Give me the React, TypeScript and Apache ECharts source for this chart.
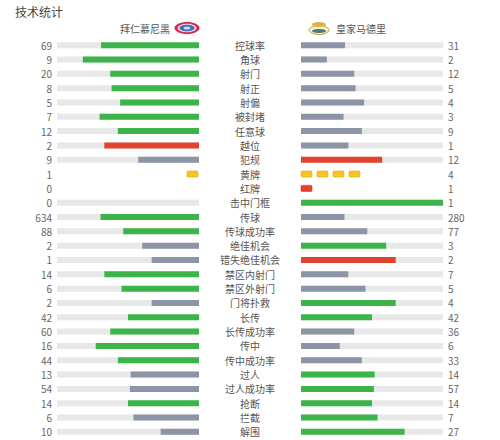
import React, { useEffect, useRef } from "react";
import * as echarts from "echarts";

const categories = [
  "控球率", "角球", "射门", "射正", "射偏", "被封堵", "任意球", "越位", "犯规", "黄牌",
  "红牌", "击中门框", "传球", "传球成功率", "绝佳机会", "错失绝佳机会", "禁区内射门", "禁区外射门", "门将扑救", "长传",
  "长传成功率", "传中", "传中成功率", "过人", "过人成功率", "抢断", "拦截", "解围",
];
const homeValues = [69, 9, 20, 8, 5, 7, 12, 2, 9, 1, 0, 0, 634, 88, 2, 1, 14, 6, 2, 42, 60, 16, 44, 13, 54, 14, 6, 10];
const awayValues = [31, 2, 12, 5, 4, 3, 9, 1, 12, 4, 1, 1, 280, 77, 3, 2, 7, 5, 4, 42, 36, 6, 33, 14, 57, 14, 7, 27];
const badStats = ["越位", "犯规", "错失绝佳机会"];
const yellowCardStat = "黄牌";
const redCardStat = "红牌";
const homeTeam = "拜仁慕尼黑";
const awayTeam = "皇家马德里";
const title = "技术统计";

const GREEN = "#3bb54a";
const RED = "#e2432f";
const GREY = "#8c95a6";
const TRACK = "#e8e8e8";
const YELLOW = "#f7c51e";
const FONT = "'Noto Sans CJK SC', 'Noto Sans', sans-serif";

const isCard = (c: string) => c === yellowCardStat || c === redCardStat;

function fillColor(i: number, side: "home" | "away") {
  const h = homeValues[i];
  const a = awayValues[i];
  const mine = side === "home" ? h : a;
  const other = side === "home" ? a : h;
  const win = badStats.includes(categories[i]) ? RED : GREEN;
  return mine >= other ? win : GREY;
}

function buildFill(side: "home" | "away") {
  return categories.map((c, i) => {
    if (isCard(c)) return "-";
    const h = homeValues[i];
    const a = awayValues[i];
    const t = h + a;
    const v = t === 0 ? 0 : (side === "home" ? h : a) / t;
    return { value: v, itemStyle: { color: fillColor(i, side) } };
  });
}
function buildTrack() {
  return categories.map((c) => (isCard(c) ? "-" : 1));
}
function cardData(side: "home" | "away", stat: string) {
  const i = categories.indexOf(stat);
  const n = side === "home" ? homeValues[i] : awayValues[i];
  return [[0, i, n]];
}

function cardSeries(side: "home" | "away", stat: string, color: string, border: string, gi: number) {
  return {
    type: "custom",
    xAxisIndex: gi,
    yAxisIndex: gi === 0 ? 0 : 2,
    data: cardData(side, stat),
    encode: { x: 0, y: 1 },
    renderItem: (params: any, api: any) => {
      const row = api.value(1);
      const n = api.value(2);
      const p = api.coord([0, row]);
      const children: any[] = [];
      for (let k = 0; k < n; k++) {
        const x = side === "home" ? p[0] - 12 - k * 16 : p[0] + k * 16;
        children.push({
          type: "rect",
          shape: { x, y: p[1] - 3, width: 11, height: 6, r: 1 },
          style: { fill: color, stroke: border, lineWidth: 0.6 },
        });
      }
      return { type: "group", children };
    },
    silent: true,
    z: 5,
  };
}

export default function App() {
  const ref = useRef<HTMLDivElement>(null);
  useEffect(() => {
    if (!ref.current) return;
    const chart = echarts.init(ref.current, null, { renderer: "svg" });
    const gridTop = 38;
    const gridH = 401;
    const option: any = {
      animation: false,
      backgroundColor: "#ffffff",
      textStyle: { fontFamily: FONT },
      grid: [
        { left: 57, width: 142, top: gridTop, height: gridH },
        { left: 301, width: 142, top: gridTop, height: gridH },
      ],
      xAxis: [
        { gridIndex: 0, type: "value", min: 0, max: 1, inverse: true, show: false },
        { gridIndex: 1, type: "value", min: 0, max: 1, show: false },
      ],
      yAxis: [
        {
          gridIndex: 0, type: "category", data: categories, inverse: true, position: "left",
          axisLine: { show: false }, axisTick: { show: false },
          axisLabel: {
            margin: 5, fontSize: 10, color: "#666", fontFamily: FONT,
            formatter: (_v: string, idx: number) => String(homeValues[idx]),
          },
        },
        {
          gridIndex: 0, type: "category", data: categories, inverse: true, position: "right",
          axisLine: { show: false }, axisTick: { show: false },
          axisLabel: { margin: 51, align: "center", fontSize: 10, color: "#555", fontFamily: FONT },
        },
        {
          gridIndex: 1, type: "category", data: categories, inverse: true, position: "right",
          axisLine: { show: false }, axisTick: { show: false },
          axisLabel: {
            margin: 5, fontSize: 10, color: "#666", fontFamily: FONT,
            formatter: (_v: string, idx: number) => String(awayValues[idx]),
          },
        },
      ],
      series: [
        { type: "bar", xAxisIndex: 0, yAxisIndex: 0, data: buildTrack(), barWidth: 6, itemStyle: { color: TRACK }, silent: true, z: 1 },
        { type: "bar", xAxisIndex: 0, yAxisIndex: 0, data: buildFill("home"), barWidth: 6, barGap: "-100%", silent: true, z: 2 },
        { type: "bar", xAxisIndex: 1, yAxisIndex: 2, data: buildTrack(), barWidth: 6, itemStyle: { color: TRACK }, silent: true, z: 1 },
        { type: "bar", xAxisIndex: 1, yAxisIndex: 2, data: buildFill("away"), barWidth: 6, barGap: "-100%", silent: true, z: 2 },
        cardSeries("home", yellowCardStat, YELLOW, "#e2a90e", 0),
        cardSeries("home", redCardStat, RED, "#c9301e", 0),
        cardSeries("away", yellowCardStat, YELLOW, "#e2a90e", 1),
        cardSeries("away", redCardStat, RED, "#c9301e", 1),
      ],
      graphic: [
        { type: "text", left: 15, top: 5, style: { text: title, fontSize: 12, fill: "#444", fontFamily: FONT } },
        { type: "text", x: 170, y: 28, style: { text: homeTeam, fontSize: 10, fill: "#555", fontFamily: FONT, align: "right", verticalAlign: "middle" } },
        { type: "text", x: 336, y: 28, style: { text: awayTeam, fontSize: 10, fill: "#555", fontFamily: FONT, align: "left", verticalAlign: "middle" } },
        // Bayern logo
        { type: "ellipse", shape: { cx: 187, cy: 28, rx: 12.5, ry: 6 }, style: { fill: "#d8264f" } },
        { type: "ellipse", shape: { cx: 187, cy: 28, rx: 9.5, ry: 4.3 }, style: { fill: "#f3d5de" } },
        { type: "ellipse", shape: { cx: 187, cy: 28, rx: 7.5, ry: 3.3 }, style: { fill: "#3d6cc2" } },
        { type: "ellipse", shape: { cx: 187, cy: 28, rx: 3.5, ry: 1.6 }, style: { fill: "#cfdcf2" } },
        // Real Madrid logo
        { type: "ellipse", shape: { cx: 319, cy: 30, rx: 10, ry: 4.5 }, style: { fill: "#efeedd", stroke: "#c9a43a", lineWidth: 1 } },
        { type: "ellipse", shape: { cx: 319, cy: 31, rx: 7, ry: 2 }, style: { fill: "#4f7f6a" } },
        { type: "ellipse", shape: { cx: 319, cy: 24.5, rx: 7, ry: 2.5 }, style: { fill: "#d8b44a" } },
      ],
    };
    chart.setOption(option);
    return () => chart.dispose();
  }, []);
  return <div ref={ref} style={{ position: "fixed", left: 0, top: 0, width: 500, height: 440 }} />;
}
